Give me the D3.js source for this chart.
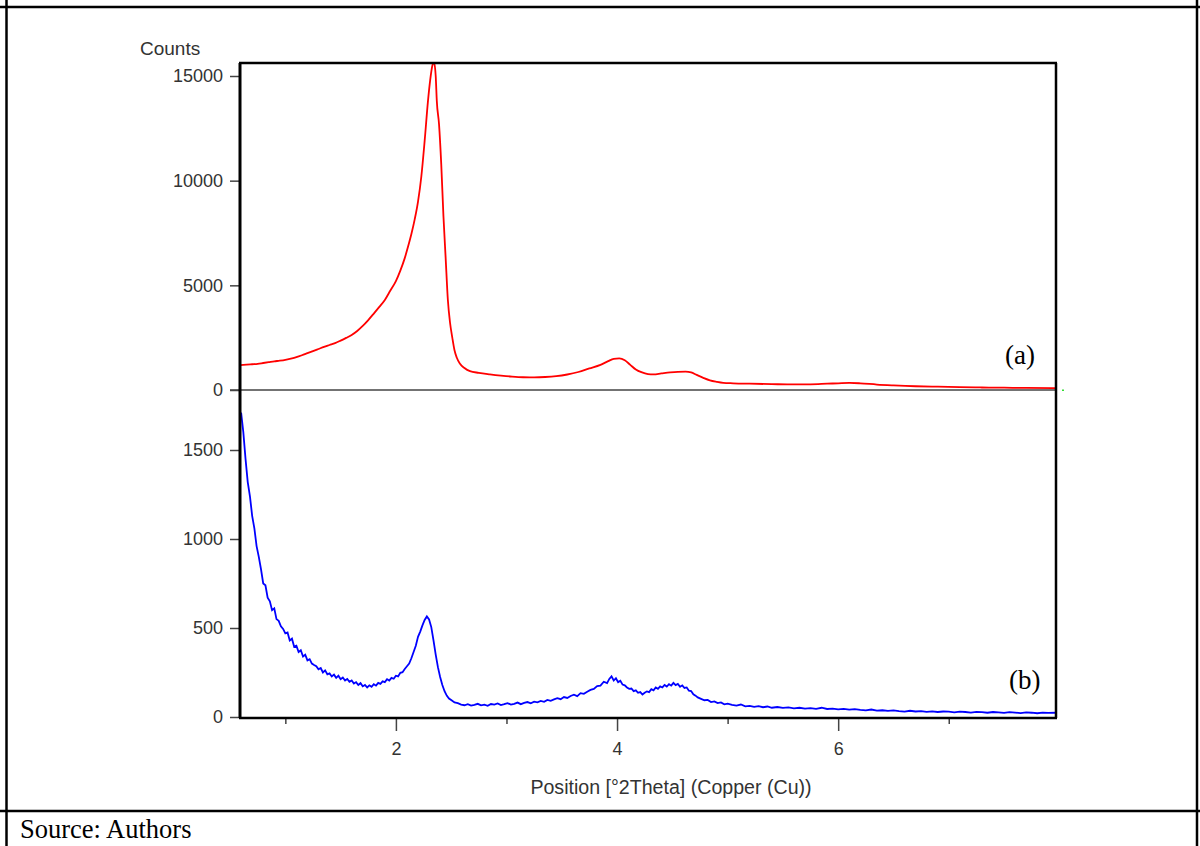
<!DOCTYPE html>
<html>
<head>
<meta charset="utf-8">
<script src="https://cdn.jsdelivr.net/npm/d3@7"></script>
<style>
  body { margin: 0; background: #fff; }
  svg { display: block; }
</style>
</head>
<body>
<div id="viz"></div>
<script>
var width = 1200,
    height = 846;

// [2Theta, counts]
var redSeries = [
  [0.59, 1190], [0.65, 1210], [0.70, 1230], [0.75, 1250], [0.80, 1290], [0.85, 1330],
  [0.90, 1370], [0.95, 1400], [1.00, 1440], [1.05, 1500], [1.10, 1570], [1.15, 1660],
  [1.20, 1760], [1.25, 1860], [1.30, 1960], [1.35, 2060], [1.40, 2150], [1.45, 2240],
  [1.50, 2360], [1.55, 2490], [1.60, 2630], [1.65, 2820], [1.70, 3060], [1.75, 3340],
  [1.80, 3650], [1.85, 3970], [1.90, 4300], [1.95, 4750], [2.00, 5200], [2.04, 5700],
  [2.08, 6300], [2.11, 6850], [2.14, 7450], [2.17, 8150], [2.20, 9000], [2.23, 10200],
  [2.26, 11900], [2.29, 13800], [2.31, 14800], [2.33, 15500], [2.345, 15650],
  [2.36, 15000], [2.37, 13800], [2.39, 12700], [2.41, 10800], [2.43, 8300], [2.45, 6300],
  [2.47, 4300], [2.49, 3200], [2.51, 2500], [2.53, 1900], [2.55, 1550], [2.58, 1250],
  [2.62, 1050], [2.67, 900], [2.75, 820], [2.85, 750], [2.95, 690], [3.05, 640],
  [3.15, 610], [3.25, 605], [3.35, 620], [3.45, 660], [3.55, 740], [3.65, 860],
  [3.75, 1030], [3.85, 1200], [3.92, 1380], [3.97, 1490], [4.02, 1510], [4.07, 1420],
  [4.12, 1200], [4.17, 980], [4.22, 850], [4.28, 760], [4.33, 745], [4.40, 790],
  [4.48, 840], [4.55, 870], [4.62, 880], [4.67, 840], [4.72, 720], [4.78, 580],
  [4.84, 460], [4.90, 390], [4.96, 340], [5.05, 320], [5.20, 300], [5.40, 280],
  [5.60, 265], [5.75, 270], [5.90, 300], [6.00, 320], [6.10, 340], [6.20, 320],
  [6.35, 260], [6.50, 220], [6.70, 180], [6.90, 160], [7.10, 140], [7.30, 120],
  [7.50, 110], [7.70, 100], [7.97, 90]
];

var blueSeries = [
  [0.60, 1710], [0.62, 1600], [0.64, 1450], [0.66, 1320], [0.68, 1240], [0.70, 1130],
  [0.72, 1060], [0.74, 960], [0.76, 900], [0.78, 830], [0.80, 750], [0.82, 740],
  [0.84, 670], [0.86, 650], [0.88, 600], [0.90, 610], [0.92, 550], [0.94, 540],
  [0.96, 510], [0.98, 495], [1.00, 470], [1.02, 475], [1.04, 430], [1.06, 440],
  [1.08, 395], [1.10, 400], [1.12, 365], [1.14, 375], [1.16, 340], [1.18, 350],
  [1.20, 318], [1.22, 325], [1.24, 300], [1.26, 292], [1.28, 285], [1.30, 268],
  [1.32, 275], [1.34, 250], [1.36, 262], [1.38, 240], [1.40, 245], [1.42, 228],
  [1.44, 238], [1.46, 220], [1.48, 232], [1.50, 212], [1.52, 222], [1.54, 205],
  [1.56, 214], [1.58, 198], [1.60, 205], [1.62, 188], [1.64, 196], [1.66, 180],
  [1.68, 190], [1.70, 172], [1.72, 180], [1.74, 166], [1.76, 178], [1.78, 170],
  [1.80, 184], [1.82, 176], [1.84, 192], [1.86, 186], [1.88, 200], [1.90, 196],
  [1.92, 212], [1.94, 205], [1.96, 220], [1.98, 215], [2.00, 232], [2.02, 228],
  [2.04, 248], [2.06, 252], [2.08, 270], [2.10, 285], [2.12, 300], [2.14, 330],
  [2.16, 365], [2.18, 400], [2.20, 450], [2.22, 480], [2.24, 515], [2.26, 545],
  [2.28, 565], [2.30, 548], [2.32, 505], [2.34, 430], [2.36, 350], [2.38, 280],
  [2.40, 225], [2.42, 180], [2.44, 145], [2.46, 120], [2.48, 104], [2.50, 95],
  [2.53, 82], [2.56, 78], [2.59, 70], [2.62, 66], [2.65, 72], [2.68, 64],
  [2.71, 68], [2.74, 74], [2.77, 65], [2.80, 69], [2.83, 63], [2.86, 73],
  [2.89, 70], [2.92, 76], [2.95, 67], [2.98, 72], [3.01, 78], [3.04, 70],
  [3.07, 74], [3.10, 81], [3.13, 72], [3.16, 79], [3.19, 84], [3.22, 77],
  [3.25, 86], [3.28, 82], [3.31, 90], [3.34, 85], [3.37, 96], [3.40, 91],
  [3.43, 99], [3.46, 106], [3.49, 100], [3.52, 112], [3.55, 107], [3.58, 118],
  [3.61, 125], [3.64, 117], [3.67, 134], [3.70, 130], [3.73, 142], [3.76, 152],
  [3.79, 158], [3.82, 174], [3.85, 176], [3.88, 198], [3.91, 190], [3.93, 214],
  [3.95, 228], [3.97, 205], [3.99, 218], [4.01, 196], [4.03, 204], [4.05, 182],
  [4.07, 178], [4.09, 166], [4.11, 158], [4.13, 160], [4.15, 145], [4.17, 150],
  [4.19, 136], [4.21, 140], [4.23, 126], [4.25, 136], [4.27, 144], [4.29, 140],
  [4.31, 156], [4.33, 150], [4.35, 166], [4.37, 158], [4.39, 172], [4.41, 166],
  [4.43, 180], [4.45, 171], [4.47, 184], [4.49, 176], [4.51, 192], [4.53, 179],
  [4.55, 186], [4.57, 170], [4.59, 178], [4.61, 163], [4.63, 166], [4.65, 148],
  [4.67, 146], [4.69, 128], [4.71, 120], [4.73, 110], [4.76, 102], [4.79, 94],
  [4.82, 96], [4.85, 84], [4.88, 88], [4.91, 78], [4.94, 82], [4.97, 71],
  [5.00, 75], [5.04, 68], [5.08, 64], [5.12, 70], [5.16, 60], [5.20, 62],
  [5.24, 57], [5.28, 61], [5.32, 55], [5.36, 59], [5.40, 52], [5.45, 56],
  [5.50, 51], [5.55, 54], [5.60, 49], [5.65, 52], [5.70, 47], [5.75, 50],
  [5.80, 46], [5.85, 52], [5.90, 45], [5.95, 47], [6.00, 43], [6.05, 46],
  [6.10, 41], [6.15, 44], [6.20, 40], [6.25, 37], [6.30, 42], [6.35, 36],
  [6.40, 38], [6.45, 34], [6.50, 37], [6.55, 33], [6.60, 30], [6.65, 35],
  [6.70, 31], [6.75, 33], [6.80, 29], [6.85, 32], [6.90, 28], [6.95, 31],
  [7.00, 30], [7.05, 26], [7.10, 30], [7.15, 28], [7.20, 25], [7.25, 29],
  [7.30, 27], [7.35, 24], [7.40, 28], [7.45, 26], [7.50, 23], [7.55, 27],
  [7.60, 25], [7.65, 22], [7.70, 26], [7.75, 24], [7.80, 21], [7.85, 25],
  [7.90, 23], [7.97, 24]
];

var xDomain = [0.59, 7.97];
var xMajorTicks = [2, 4, 6];
var xMinorTicks = [1, 3, 5, 7];
var topTicks = [0, 5000, 10000, 15000];
var bottomTicks = [0, 500, 1000, 1500];

var xLabel = "Position [°2Theta] (Copper (Cu))";
var yLabel = "Counts";
var sourceText = "Source: Authors";

// layout (pixels)
var plot = {left: 240, right: 1056, top: 63, mid: 390, bottom: 718};
var sans = "'Liberation Sans', Arial, sans-serif";
var serif = "'Liberation Serif', 'Times New Roman', serif";

var svg = d3.select("#viz").append("svg")
    .attr("width", width)
    .attr("height", height);

svg.append("rect").attr("width", width).attr("height", height).attr("fill", "#fff");

var x = d3.scaleLinear().domain(xDomain).range([plot.left, plot.right]);
var yTop = d3.scaleLinear().domain([0, 15000]).range([plot.mid, 76]);
var yBot = d3.scaleLinear().domain([0, 1500]).range([717, 450]);

// clip paths for each panel
var defs = svg.append("defs");
defs.append("clipPath").attr("id", "clipTop").append("rect")
    .attr("x", plot.left).attr("y", plot.top)
    .attr("width", plot.right - plot.left).attr("height", plot.mid - plot.top);
defs.append("clipPath").attr("id", "clipBot").append("rect")
    .attr("x", plot.left).attr("y", plot.mid)
    .attr("width", plot.right - plot.left).attr("height", plot.bottom - plot.mid);

// outer table lines
var table = svg.append("g").attr("stroke", "#000").attr("stroke-width", 2.5);
table.append("line").attr("x1", 0).attr("x2", width).attr("y1", 7).attr("y2", 7);
table.append("line").attr("x1", 0).attr("x2", width).attr("y1", 811).attr("y2", 811);
table.append("line").attr("x1", 6.5).attr("x2", 6.5).attr("y1", 0).attr("y2", height);
table.append("line").attr("x1", 1197).attr("x2", 1197).attr("y1", 0).attr("y2", height);

svg.append("text")
    .attr("x", 20).attr("y", 838)
    .attr("font-family", serif).attr("font-size", 26.5)
    .attr("fill", "#000")
    .text(sourceText);

// separator between panels (zero line)
svg.append("line")
    .attr("x1", 230).attr("x2", plot.right)
    .attr("y1", plot.mid).attr("y2", plot.mid)
    .attr("stroke", "#444").attr("stroke-width", 1.5);
svg.append("rect").attr("x", 1062).attr("y", 389.5).attr("width", 2).attr("height", 1.5).attr("fill", "#33dd33");

// curves
var redLine = d3.line()
    .x(function(d) { return x(d[0]); })
    .y(function(d) { return yTop(d[1]); })
    .curve(d3.curveMonotoneX);

var blueLine = d3.line()
    .x(function(d) { return x(d[0]); })
    .y(function(d) { return yBot(d[1]); });

svg.append("path")
    .datum(redSeries)
    .attr("clip-path", "url(#clipTop)")
    .attr("d", redLine)
    .attr("fill", "none")
    .attr("stroke", "#ff0000")
    .attr("stroke-width", 1.8);

svg.append("path")
    .datum(blueSeries)
    .attr("clip-path", "url(#clipBot)")
    .attr("d", blueLine)
    .attr("fill", "none")
    .attr("stroke", "#0000ff")
    .attr("stroke-width", 1.8);

// y axes
var axisTop = svg.append("g")
    .attr("transform", "translate(" + plot.left + ",0)")
    .call(d3.axisLeft(yTop).tickValues(topTicks).tickSize(10).tickPadding(7).tickFormat(d3.format("d")));
var axisBot = svg.append("g")
    .attr("transform", "translate(" + plot.left + ",0)")
    .call(d3.axisLeft(yBot).tickValues(bottomTicks).tickSize(10).tickPadding(7).tickFormat(d3.format("d")));

// x axis, major and minor
var axisX = svg.append("g")
    .attr("transform", "translate(0," + plot.bottom + ")")
    .call(d3.axisBottom(x).tickValues(xMajorTicks).tickSize(13).tickPadding(11).tickFormat(d3.format("d")));
var axisXMinor = svg.append("g")
    .attr("transform", "translate(0," + plot.bottom + ")")
    .call(d3.axisBottom(x).tickValues(xMinorTicks).tickSize(6).tickFormat(""));

[axisTop, axisBot, axisX, axisXMinor].forEach(function(g) {
    g.select(".domain").remove();
    g.selectAll(".tick line").attr("stroke", "#444").attr("stroke-width", 1.5);
    g.selectAll(".tick text")
        .attr("font-family", sans)
        .attr("font-size", 18)
        .attr("fill", "#333");
});

// plot frame
var frame = svg.append("g").attr("stroke", "#000").attr("fill", "none");
frame.append("line").attr("x1", plot.left - 1).attr("x2", plot.right + 1)
    .attr("y1", plot.top).attr("y2", plot.top).attr("stroke-width", 2.5);
frame.append("line").attr("x1", plot.left).attr("x2", plot.left)
    .attr("y1", plot.top).attr("y2", plot.bottom).attr("stroke-width", 3);
frame.append("line").attr("x1", plot.right).attr("x2", plot.right)
    .attr("y1", plot.top).attr("y2", plot.bottom).attr("stroke-width", 2.5);
frame.append("line").attr("x1", plot.left - 1).attr("x2", plot.right + 1)
    .attr("y1", plot.bottom).attr("y2", plot.bottom).attr("stroke-width", 2.5);

// axis titles
svg.append("text")
    .attr("x", 140).attr("y", 55)
    .attr("font-family", sans).attr("font-size", 19).attr("fill", "#333")
    .text(yLabel);

svg.append("text")
    .attr("x", 671).attr("y", 794)
    .attr("text-anchor", "middle")
    .attr("font-family", sans).attr("font-size", 19.6).attr("fill", "#333")
    .text(xLabel);

// panel labels
svg.append("text")
    .attr("x", 1005).attr("y", 364)
    .attr("font-family", serif).attr("font-size", 27).attr("fill", "#000")
    .text("(a)");
svg.append("text")
    .attr("x", 1009).attr("y", 689)
    .attr("font-family", serif).attr("font-size", 27).attr("fill", "#000")
    .text("(b)");
</script>
</body>
</html>
